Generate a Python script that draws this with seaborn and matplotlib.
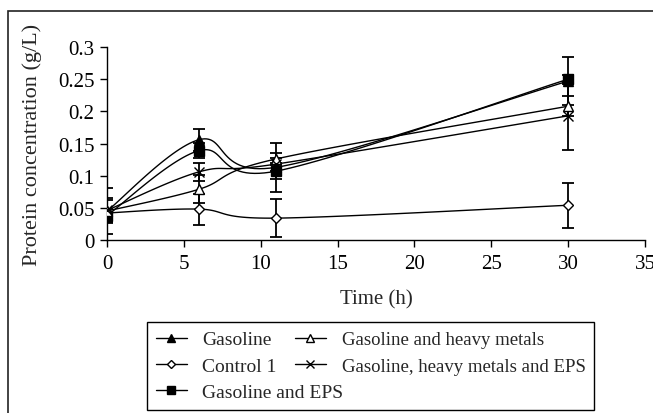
import numpy as np
import pandas as pd
import matplotlib
matplotlib.use('Agg')
import matplotlib.pyplot as plt
from matplotlib.lines import Line2D
from matplotlib.patches import Rectangle
import seaborn as sns

# === DATA ===
time_h = [0, 6, 11, 30]

series_names = ['Gasoline', 'Control 1', 'Gasoline and EPS',
                'Gasoline and heavy metals', 'Gasoline, heavy metals and EPS']

gasoline = [0.045, 0.156, 0.113, 0.247]
gasoline_err = [0.036, 0.017, 0.038, 0.037]

control1 = [0.042, 0.048, 0.034, 0.054]
control1_err = [0.000, 0.024, 0.030, 0.035]

gasoline_eps = [0.038, 0.139, 0.107, 0.250]
gasoline_eps_err = [0.010, 0.012, 0.012, 0.007]

gasoline_hm = [0.045, 0.079, 0.126, 0.208]
gasoline_hm_err = [0.017, 0.022, 0.010, 0.016]

gasoline_hm_eps = [0.046, 0.106, 0.118, 0.193]
gasoline_hm_eps_err = [0.020, 0.014, 0.010, 0.053]

values = [gasoline, control1, gasoline_eps, gasoline_hm, gasoline_hm_eps]
errors = [gasoline_err, control1_err, gasoline_eps_err, gasoline_hm_err, gasoline_hm_eps_err]

# marker style per series: (marker, face, size)
styles = [('^', 'black', 7), ('D', 'white', 5.5), ('s', 'black', 7),
          ('^', 'white', 7), ('x', 'black', 7)]


def smooth(x, y, n=30):
    # spreadsheet-style smoothed line (cardinal bezier through the points)
    x = np.asarray(x, float)
    y = np.asarray(y, float)
    px = np.concatenate([[x[0]], x, [x[-1]]])
    py = np.concatenate([[y[0]], y, [y[-1]]])
    xs, ys = [], []
    t = np.linspace(0, 1, n)
    for i in range(1, len(px) - 2):
        p0 = np.array([px[i], py[i]])
        p3 = np.array([px[i + 1], py[i + 1]])
        p1 = p0 + (np.array([px[i + 1], py[i + 1]]) - np.array([px[i - 1], py[i - 1]])) / 6
        p2 = p3 - (np.array([px[i + 2], py[i + 2]]) - np.array([px[i], py[i]])) / 6
        b = ((1 - t) ** 3)[:, None] * p0 + (3 * (1 - t) ** 2 * t)[:, None] * p1 \
            + (3 * (1 - t) * t ** 2)[:, None] * p2 + (t ** 3)[:, None] * p3
        xs.extend(b[:, 0])
        ys.extend(b[:, 1])
    return xs, ys


sns.set_style('ticks')
plt.rcParams['font.family'] = ['Liberation Serif', 'DejaVu Serif']

fig = plt.figure(figsize=(6.53, 4.14), dpi=100)
ax = fig.add_axes([107 / 653, 1 - 241 / 414, 538 / 653, 193 / 414])

for name, vals, errs, (mk, fc, ms) in zip(series_names, values, errors, styles):
    sx, sy = smooth(time_h, vals)
    curve = pd.DataFrame({'t': sx, 'c': sy})
    sns.lineplot(data=curve, x='t', y='c', sort=False, estimator=None,
                 color='black', lw=1.0, ax=ax)
    ax.errorbar(time_h, vals, yerr=errs, fmt='none', ecolor='black',
                elinewidth=1.3, capsize=4, capthick=1.3, zorder=3)
    ax.plot(time_h, vals, ls='none', marker=mk, mfc=fc, mec='black',
            ms=ms, mew=1.0, zorder=4)

ax.set_xlim(0, 35)
ax.set_ylim(0, 0.3)
ax.set_xticks([0, 5, 10, 15, 20, 25, 30, 35])
ax.set_yticks([0, 0.05, 0.1, 0.15, 0.2, 0.25, 0.3])
ax.set_yticklabels(['0', '0.05', '0.1', '0.15', '0.2', '0.25', '0.3'])
ax.tick_params(axis='both', direction='out', length=5, width=1, colors='black',
               labelsize=15)
ax.tick_params(axis='x', pad=5)
ax.tick_params(axis='y', pad=4)
for s in ['top', 'right']:
    ax.spines[s].set_visible(False)
for s in ['left', 'bottom']:
    ax.spines[s].set_color('black')
    ax.spines[s].set_linewidth(1.0)

ax.set_xlabel('Time (h)', fontsize=15)
ax.set_ylabel('Protein concentration (g/L)', fontsize=16)
ax.xaxis.set_label_coords(0.5, -0.255)
ax.yaxis.set_label_coords(-0.12, 0.5)

# === LEGEND ===
handles = []
for (mk, fc, ms) in styles:
    handles.append(Line2D([], [], color='black', lw=1.0, marker=mk, mfc=fc,
                          mec='black', ms=ms - 1, mew=1.0))
leg = fig.legend(handles, series_names, ncol=2, loc='upper left',
                 bbox_to_anchor=(147 / 653, 1 - 323 / 414), borderaxespad=0,
                 frameon=True, fancybox=False, edgecolor='black', framealpha=1,
                 handlelength=1.6, handletextpad=0.8, columnspacing=-2.5,
                 borderpad=0.45, labelspacing=0.45, fontsize=14)
leg.get_frame().set_linewidth(1.0)
for txt in leg.get_texts()[3:]:
    txt.set_fontsize(13.5)

# outer frame of the figure panel
fig.patches.append(Rectangle((8 / 653, -0.05), 1.2, 1 - 12 / 414 + 0.05,
                             transform=fig.transFigure, fill=False,
                             edgecolor='#222222', lw=1.2))

fig.savefig('out.png', dpi=100)
